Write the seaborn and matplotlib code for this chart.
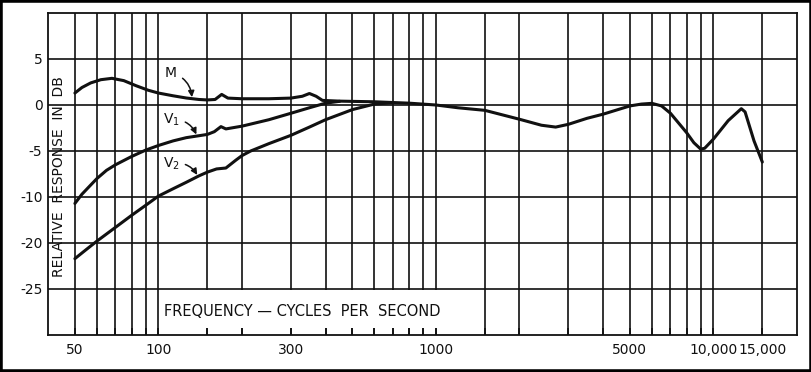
import matplotlib
matplotlib.use('Agg')
import matplotlib.pyplot as plt
import seaborn as sb
from matplotlib.patches import Rectangle
from matplotlib.ticker import FixedLocator, FuncFormatter, NullLocator

# curve M
freq_m = [50, 53, 57, 62, 68, 75, 83, 92, 100, 113, 126, 140, 150, 160, 169, 178, 200, 250, 300, 330,
          350, 370, 390, 450, 600, 800, 1000, 1200, 1500, 2000, 2400, 2700, 3000, 3500, 4000, 5000,
          5500, 6000, 6500, 7000, 8000, 8500, 9000, 9300, 10000, 11300, 12600, 13000, 14000, 15000]
resp_m = [1.3, 1.9, 2.4, 2.75, 2.9, 2.65, 2.1, 1.6, 1.3, 1.0, 0.76, 0.6, 0.55, 0.6, 1.15, 0.75, 0.68,
          0.68, 0.75, 0.95, 1.25, 0.95, 0.5, 0.42, 0.35, 0.2, 0.0, -0.3, -0.58, -1.55, -2.2, -2.4,
          -2.1, -1.45, -1.0, -0.1, 0.1, 0.18, -0.1, -0.9, -3.0, -4.1, -4.8, -4.7, -3.7, -1.7, -0.4,
          -0.75, -3.9, -6.2]

# curve V1
freq_v1 = [50, 53, 57, 60, 65, 70, 80, 90, 100, 113, 126, 150, 159, 168, 175, 200, 250, 300, 350,
           400, 450]
resp_v1 = [-10.7, -9.7, -8.7, -8.0, -7.1, -6.5, -5.6, -4.9, -4.4, -3.9, -3.55, -3.2, -2.9, -2.35,
           -2.6, -2.3, -1.6, -0.9, -0.3, 0.2, 0.4]

# curve V2
freq_v2 = [50, 55, 60, 70, 80, 90, 100, 113, 126, 140, 150, 162, 175, 190, 200, 215, 250, 300, 350,
           400, 500, 600, 700]
resp_v2 = [-16.7, -15.7, -14.8, -13.3, -12.0, -10.9, -9.9, -9.1, -8.4, -7.7, -7.3, -6.95, -6.85,
           -6.0, -5.5, -5.0, -4.2, -3.3, -2.4, -1.6, -0.5, 0.1, 0.25]

grid_freqs = [50, 60, 70, 80, 90, 100, 150, 200, 300, 400, 500, 600, 700, 800, 900, 1000, 1500, 2000,
              3000, 4000, 5000, 6000, 7000, 8000, 9000, 10000, 15000]
freq_labels = {50: '50', 100: '100', 300: '300', 1000: '1000', 5000: '5000', 10000: '10,000',
               15000: '15,000'}
db_ticks = [5, 0, -5, -10, -15, -20]
db_labels = ['5', '0', '-5', '-10', '-20', '-25']   # printed that way on the original

sb.set_theme(style='white')
plt.rcParams['font.family'] = ['DejaVu Sans']
ink = '#111111'

fig = plt.figure(figsize=(8.12, 3.72), dpi=100)
ax = fig.add_axes([48 / 812, 37 / 372, 749 / 812, 322 / 372])

for f, r in [(freq_m, resp_m), (freq_v1, resp_v1), (freq_v2, resp_v2)]:
    sb.lineplot(x=f, y=r, ax=ax, color=ink, linewidth=2.2, estimator=None, sort=False, zorder=2)

ax.set_xscale('log')
ax.set_xlim(40, 20000)
ax.set_ylim(-25, 10)
ax.xaxis.set_major_locator(FixedLocator(grid_freqs))
ax.xaxis.set_major_formatter(FuncFormatter(lambda v, p: freq_labels.get(int(round(v)), '')))
ax.xaxis.set_minor_locator(NullLocator())
ax.set_yticks(db_ticks, db_labels)

ax.set_axisbelow(True)
ax.grid(True, color=ink, linewidth=1.2)
ax.tick_params(axis='x', direction='in', length=5, width=1.2, color=ink, pad=6,
               labelsize=10, labelcolor=ink, bottom=True)
ax.tick_params(axis='y', length=0, pad=4, labelsize=10, labelcolor=ink)
for s in ax.spines.values():
    s.set_color(ink)
    s.set_linewidth(1.3)

# white band behind the axis caption
ax.add_patch(Rectangle((103, -24.2), 1400 - 103, 4.05, facecolor='white', edgecolor='none', zorder=1))
ax.text(330, -22.5, 'FREQUENCY \u2014 CYCLES  PER  SECOND', ha='center', va='center',
        fontsize=10.5, color=ink, zorder=3)
ax.text(44, -7.8, 'RELATIVE  RESPONSE  IN  DB', rotation=90, ha='center', va='center',
        fontsize=10, color=ink, zorder=3)

arrow = dict(arrowstyle='-|>', connectionstyle='arc3,rad=-0.35', color=ink, lw=1.1,
             mutation_scale=9, shrinkA=2, shrinkB=0)
ax.annotate('M', xy=(132, 0.85), xytext=(111, 3.5), ha='center', va='center',
            fontsize=10, color=ink, arrowprops=arrow, zorder=3)
ax.annotate('V$_1$', xy=(137, -3.2), xytext=(111, -1.6), ha='center', va='center',
            fontsize=10, color=ink, arrowprops=arrow, zorder=3)
ax.annotate('V$_2$', xy=(138, -7.6), xytext=(111, -6.4), ha='center', va='center',
            fontsize=10, color=ink, arrowprops=arrow, zorder=3)

fig.add_artist(Rectangle((0, 0), 1, 1, transform=fig.transFigure, fill=False,
                         edgecolor='black', linewidth=4))

fig.savefig('out.png', dpi=100)
